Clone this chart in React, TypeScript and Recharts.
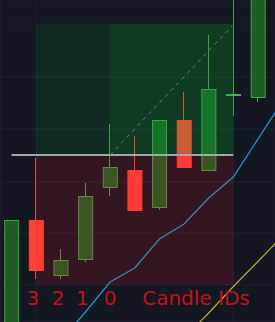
import React from 'react';
import {
  ComposedChart, Bar, Line, XAxis, YAxis, CartesianGrid, ReferenceArea, ReferenceLine, ReferenceDot,
} from 'recharts';

// candle index
const candleIds = [0, 1, 2, 3, 4, 5, 6, 7, 8, 9, 10];
const opens = [92.2, 110.2, 104.6, 106.2, 113.4, 115.2, 111.4, 120.2, 115.1, 122.7, 122.4];
const closes = [110.2, 105.1, 106.2, 112.6, 115.5, 111.1, 120.2, 115.4, 123.3, 122.7, 136.2];
const highs = [110.2, 116.4, 107.3, 113.9, 119.8, 118.6, 120.2, 123.0, 128.7, 134.2, 136.5];
const lows = [90.0, 104.3, 104.3, 106.0, 112.6, 111.1, 111.2, 115.4, 115.1, 120.6, 122.0];

// moving averages
const blueIdx = [2, 3, 4, 5, 6, 7, 8, 9, 10, 11];
const blueVals = [98.1, 101.0, 104.0, 105.4, 108.3, 109.8, 112.4, 114.5, 118.3, 122.1];
const yellowIdx = [7, 8, 9, 10, 11];
const yellowVals = [98.4, 100.9, 103.55, 106.05, 108.6];

// position tool levels
const entryPrice = 116.7;
const targetPrice = 129.8;
const stopPrice = 103.7;
const zoneStart = 1;
const zoneEnd = 9;
const projStart = 4;

// labels
const idLabels = ['3', '2', '1', '0'];
const idLabelX = [0.87, 1.89, 2.88, 4.0];
const titleLabel = 'Candle IDs';
const titleX = 7.485;
const labelY = 102.41;

const gridY = [103.7, 108.9, 114.0, 119.3, 124.5, 129.8];
const gridX = [1, 9];

const candles = candleIds.map((i) => ({ i, open: opens[i], close: closes[i], high: highs[i], low: lows[i] }));
const blueData = blueIdx.map((i, k) => ({ i, v: blueVals[k] }));
const yellowData = yellowIdx.map((i, k) => ({ i, v: yellowVals[k] }));

const Candle = (props: any) => {
  const { x, y, width, height, payload } = props;
  if (payload == null || width == null) return null;
  const top = Math.min(y, y + height);
  const h = Math.abs(height);
  const { open, close, high, low } = payload;
  const k = h / (high - low);
  const yOf = (v: number) => top + (high - v) * k;
  const cx = Math.round(x + width / 2) - 0.5;
  const up = close >= open;
  const stroke = up ? '#43a047' : '#ff4236';
  const fill = up ? '#1e5e26' : '#ff4236';
  const bTop = yOf(Math.max(open, close));
  const bBot = yOf(Math.min(open, close));
  return (
    <g>
      <line x1={cx} x2={cx} y1={yOf(high)} y2={yOf(low)} stroke={stroke} strokeWidth={1} />
      {open === close ? (
        <line x1={x} x2={x + width} y1={bTop} y2={bTop} stroke="#4caf50" strokeWidth={2} />
      ) : (
        <rect x={x + 0.5} y={bTop + 0.5} width={width - 1} height={Math.max(bBot - bTop - 1, 1)} fill={fill} stroke={stroke} strokeWidth={1} />
      )}
    </g>
  );
};

const labelStyle = { fill: '#cc0d18', fontSize: 20, fontFamily: 'DejaVu Sans' };

export default function App() {
  return (
    <div style={{ position: 'absolute', left: 0, top: 0, width: 275, height: 322, background: '#131722', overflow: 'hidden' }}>
      <ComposedChart width={275} height={322} data={candles} margin={{ top: 0, right: 0, bottom: 0, left: 0 }}>
        <XAxis dataKey="i" type="number" domain={[-0.4665, 10.69]} ticks={gridX} allowDataOverflow hide />
        <YAxis type="number" domain={[100, 132.2]} ticks={gridY} allowDataOverflow hide />
        <CartesianGrid stroke="#1f2330" strokeWidth={1} />
        {idLabels.map((t, k) => (
          <ReferenceDot key={t} x={idLabelX[k]} y={labelY} r={0} fill="none" stroke="none" ifOverflow="visible"
            label={{ value: t, position: 'center', ...labelStyle }} />
        ))}
        <ReferenceDot x={titleX} y={labelY} r={0} fill="none" stroke="none" ifOverflow="visible"
          label={{ value: titleLabel, position: 'center', ...labelStyle }} />
        <Bar dataKey={(d: any) => [d.low, d.high]} barSize={15} shape={<Candle />} isAnimationActive={false} />
        <ReferenceArea x1={zoneStart} x2={zoneEnd} y1={entryPrice} y2={targetPrice} fill="rgb(0,200,40)" fillOpacity={0.12} stroke="none" ifOverflow="visible" zIndex={500} />
        <ReferenceArea x1={projStart} x2={zoneEnd} y1={entryPrice} y2={targetPrice} fill="rgb(0,200,40)" fillOpacity={0.1} stroke="none" ifOverflow="visible" zIndex={500} />
        <ReferenceArea x1={zoneStart} x2={zoneEnd} y1={stopPrice} y2={entryPrice} fill="rgb(255,20,30)" fillOpacity={0.14} stroke="none" ifOverflow="visible" zIndex={500} />
        <ReferenceLine segment={[{ x: 0, y: entryPrice }, { x: zoneEnd, y: entryPrice }]} stroke="#a3a6ad" strokeWidth={2} ifOverflow="visible" zIndex={600} />
        <ReferenceLine segment={[{ x: projStart, y: entryPrice }, { x: 8.95, y: 129.6 }]} stroke="#6f737d" strokeWidth={1} strokeDasharray="4 4" ifOverflow="visible" zIndex={600} />
        <Line data={blueData} dataKey="v" type="linear" stroke="#2196c4" strokeWidth={1.3} dot={false} isAnimationActive={false} />
        <Line data={yellowData} dataKey="v" type="linear" stroke="#b5ad2e" strokeWidth={1.2} dot={false} isAnimationActive={false} />
      </ComposedChart>
    </div>
  );
}
